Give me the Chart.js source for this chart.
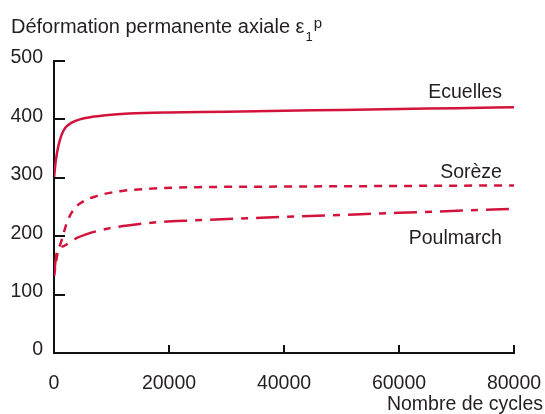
<!DOCTYPE html>
<html>
<head>
<meta charset="utf-8">
<script src="https://cdn.jsdelivr.net/npm/chart.js@4/dist/chart.umd.min.js"></script>
<style>
  html, body { margin: 0; padding: 0; background: #fff; }
  #chart { display: block; }
</style>
</head>
<body>
<canvas id="chart" width="545" height="414"></canvas>
<script>
// Déformation permanente axiale vs nombre de cycles

const xTicks = [0, 20000, 40000, 60000, 80000];
const yTicks = [0, 100, 200, 300, 400, 500];

const ecuellesCycles = [0, 300, 700, 1300, 2000, 3000, 4500, 6500, 9000, 13000, 20000, 30000, 40000, 50000, 60000, 70000, 80000];
const ecuellesValues = [300, 328, 352, 373, 386, 394, 400, 404, 407, 410, 412, 413, 415, 416, 418, 419, 421];

const sorezeCycles = [0, 600, 1300, 2200, 3300, 4500, 7500, 11500, 18000, 25000, 40000, 60000, 80000];
const sorezeValues = [132, 170, 192, 222, 244, 256, 269, 277, 282, 284, 285, 286, 287];

const poulmarchCycles = [0, 400, 900, 1900, 4000, 8000, 12500, 18000, 24000, 40000, 60000, 80000];
const poulmarchValues = [132, 168, 178, 184, 197, 210, 218, 224, 227, 233, 240, 247];

const labels = ['Ecuelles', 'Sorèze', 'Poulmarch'];

const colors = {
    line: '#d2143c',
    text: '#231f20',
    axis: '#111'
};

const FONT = "'Liberation Sans', Arial, Helvetica, sans-serif";

function toPoints(xs, ys) {
    return xs.map((x, i) => ({ x: x, y: ys[i] }));
}

// tick marks drawn inside the plot, plus titles and curve names
const decorations = {
    id: 'decorations',
    afterDraw(chart) {
        const { ctx, scales: { x, y }, chartArea } = chart;
        ctx.save();
        ctx.strokeStyle = colors.axis;
        ctx.lineWidth = 2;
        xTicks.forEach(v => {
            if (v === 0) return;
            const px = Math.round(x.getPixelForValue(v));
            ctx.beginPath();
            ctx.moveTo(px, chartArea.bottom);
            ctx.lineTo(px, chartArea.bottom - 8);
            ctx.stroke();
        });
        yTicks.forEach(v => {
            if (v === 0) return;
            const py = Math.round(y.getPixelForValue(v));
            ctx.beginPath();
            ctx.moveTo(chartArea.left, py);
            ctx.lineTo(chartArea.left + 11, py);
            ctx.stroke();
        });

        ctx.fillStyle = colors.text;
        ctx.textBaseline = 'alphabetic';

        // y axis title with subscript / superscript
        ctx.font = '20px ' + FONT;
        ctx.textAlign = 'left';
        const main = 'Déformation permanente axiale ε';
        ctx.fillText(main, 11, 33);
        const w = ctx.measureText(main).width;
        ctx.font = '13px ' + FONT;
        ctx.fillText('1', 11 + w + 1, 41);
        const w1 = ctx.measureText('1').width;
        ctx.font = '15px ' + FONT;
        ctx.fillText('p', 11 + w + w1 + 2, 28);

        // x axis title
        ctx.font = '19.5px ' + FONT;
        ctx.textAlign = 'right';
        ctx.fillText('Nombre de cycles', 543, 410);

        // curve names
        const namePos = [[77900, 449], [77900, 312], [77900, 199]];
        labels.forEach((name, i) => {
            ctx.fillText(name, x.getPixelForValue(namePos[i][0]), y.getPixelForValue(namePos[i][1]) + 7);
        });
        ctx.restore();
    }
};

const baseLine = {
    borderColor: colors.line,
    borderWidth: 2.5,
    pointRadius: 0,
    fill: false,
    cubicInterpolationMode: 'monotone'
};

new Chart(document.getElementById('chart'), {
    type: 'line',
    data: {
        datasets: [
            Object.assign({ label: labels[0], data: toPoints(ecuellesCycles, ecuellesValues) }, baseLine),
            Object.assign({ label: labels[1], data: toPoints(sorezeCycles, sorezeValues), borderDash: [8, 7] }, baseLine),
            Object.assign({ label: labels[2], data: toPoints(poulmarchCycles, poulmarchValues), borderDash: [23, 8, 7, 8] }, baseLine)
        ]
    },
    options: {
        responsive: false,
        animation: false,
        devicePixelRatio: 1,
        layout: { padding: { top: 61, right: 31, left: 0, bottom: 0 } },
        plugins: {
            legend: { display: false },
            tooltip: { enabled: false }
        },
        scales: {
            x: {
                type: 'linear',
                min: 0,
                max: 80000,
                afterFit: (s) => { s.height = 61; s.paddingLeft = 0; s.paddingRight = 0; },
                afterBuildTicks: (s) => { s.ticks = xTicks.map(v => ({ value: v })); },
                ticks: {
                    color: colors.text,
                    font: { family: FONT, size: 19.5 },
                    padding: 19,
                    maxRotation: 0,
                    callback: (v) => String(v)
                },
                grid: { display: false, drawTicks: false },
                border: { display: true, color: colors.axis, width: 2 }
            },
            y: {
                min: 0,
                max: 500,
                afterFit: (s) => { s.width = 54; s.paddingTop = 0; s.paddingBottom = 0; },
                afterBuildTicks: (s) => { s.ticks = yTicks.map(v => ({ value: v })); },
                ticks: {
                    color: colors.text,
                    font: { family: FONT, size: 19.5 },
                    padding: 11,
                    labelOffset: -3,
                    callback: (v) => String(v)
                },
                grid: { display: false, drawTicks: false },
                border: { display: true, color: colors.axis, width: 2 }
            }
        }
    },
    plugins: [decorations]
});
</script>
</body>
</html>
